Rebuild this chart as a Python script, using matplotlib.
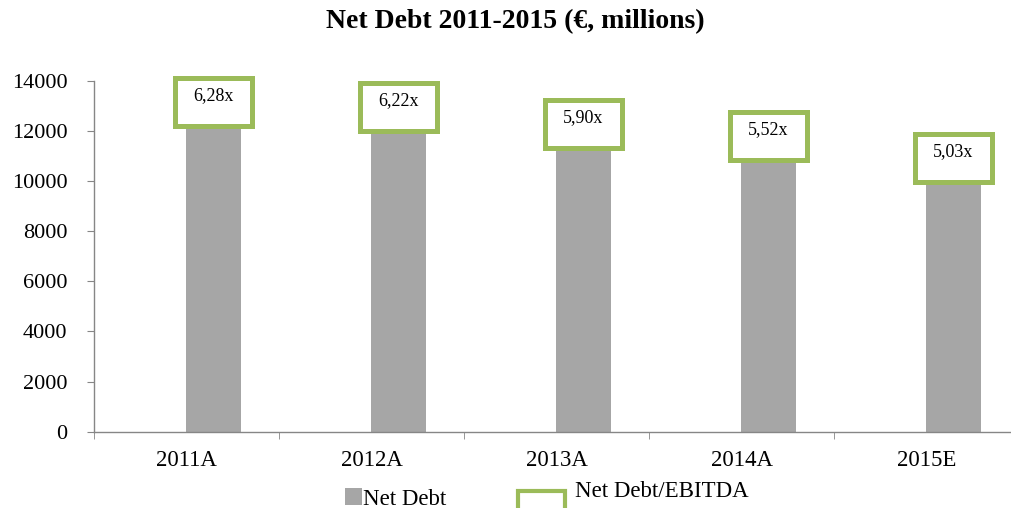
import matplotlib.pyplot as plt
from matplotlib.patches import Rectangle
import numpy as np

# Net debt per year (EUR millions) and leverage multiple
years = ["2011A", "2012A", "2013A", "2014A", "2015E"]
net_debt = [12200, 12000, 11300, 10850, 9950]
ratio_labels = ["6,28x", "6,22x", "5,90x", "5,52x", "5,03x"]

bar_color = "#a6a6a6"
green = "#9bbb59"
axis_color = "#868686"

plt.rcParams["font.family"] = ["Liberation Serif", "DejaVu Serif"]

fig = plt.figure(figsize=(10.11, 5.08), dpi=100)
W, H = 1011, 508
ax = fig.add_axes([94 / W, 76.3 / H, 925 / W, 351 / H])

x = np.arange(len(years))
offset = 0.146
ax.bar(x + offset, net_debt, width=0.295, color=bar_color, zorder=2)

# boxes with the Net Debt/EBITDA multiple sitting on top of each bar
px_per_unit = 351 / 14000
box_w = 77 / 185
box_h = 48 / px_per_unit
for xi, v, lab in zip(x, net_debt, ratio_labels):
    ax.add_patch(Rectangle((xi + offset - box_w / 2, v), box_w, box_h,
                           facecolor="white", edgecolor=green, lw=3.6,
                           zorder=3, clip_on=False))
    ax.annotate(lab, (xi + offset, v), xytext=(0, 22), textcoords="offset points",
                ha="center", va="center", fontsize=13, zorder=4)

ax.set_xlim(-0.5, 4.5)
ax.set_ylim(0, 14000)
ax.set_yticks(range(0, 14001, 2000))
ax.set_xticks(x)
ax.set_xticklabels(years)
ax.set_xticks(np.arange(-0.5, 4.6, 1), minor=True)

for s in ["top", "right"]:
    ax.spines[s].set_visible(False)
for s in ["left", "bottom"]:
    ax.spines[s].set_color(axis_color)
    ax.spines[s].set_linewidth(1.0)

ax.tick_params(axis="y", length=5, color=axis_color, pad=14, labelsize=16)
ax.tick_params(axis="x", which="major", length=0, pad=13, labelsize=16.5)
ax.tick_params(axis="x", which="minor", length=5, color=axis_color)

fig.text(515.5 / W, 1 - 22 / H, "Net Debt 2011-2015 (€, millions)",
         ha="center", va="center", fontsize=20, fontweight="bold")

# legend drawn by hand along the bottom edge
fig.patches.append(Rectangle((345 / W, 3 / H), 17 / W, 17 / H,
                             transform=fig.transFigure, facecolor=bar_color,
                             edgecolor="none"))
fig.text(363 / W, 3 / H, "Net Debt", ha="left", va="baseline", fontsize=16.5)
fig.patches.append(Rectangle((518 / W, -5 / H), 47 / W, 22 / H,
                             transform=fig.transFigure, facecolor="white",
                             edgecolor=green, lw=3))
fig.text(575 / W, 11 / H, "Net Debt/EBITDA", ha="left", va="baseline", fontsize=16.5)

fig.savefig("out.png", dpi=100)
